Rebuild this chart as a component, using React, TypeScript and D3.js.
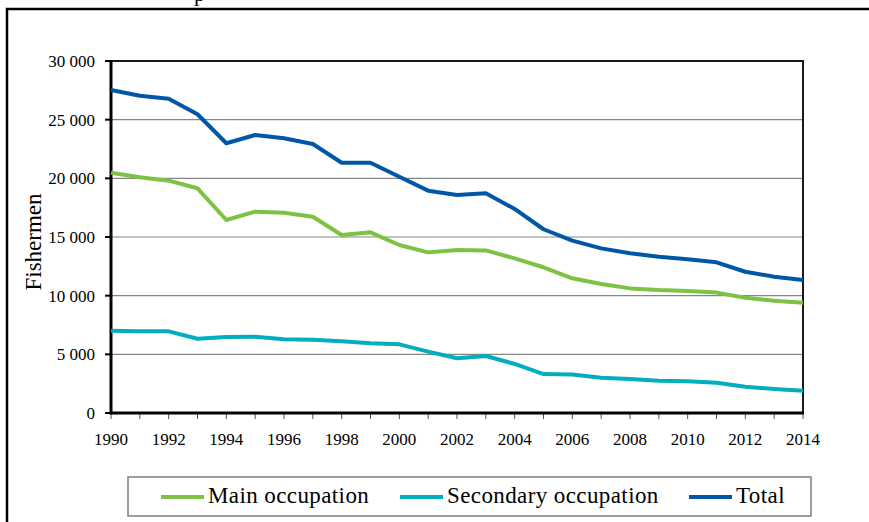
import React, { useEffect, useRef } from 'react';
import * as d3 from 'd3';

// Data
const years = [1990, 1991, 1992, 1993, 1994, 1995, 1996, 1997, 1998, 1999, 2000, 2001, 2002,
  2003, 2004, 2005, 2006, 2007, 2008, 2009, 2010, 2011, 2012, 2013, 2014];
const mainOccupation = [20480, 20090, 19800, 19150, 16450, 17160, 17070, 16730, 15170, 15400, 14320,
  13690, 13890, 13860, 13180, 12420, 11480, 10990, 10620, 10480, 10400, 10260, 9830, 9570, 9400];
const secondaryOccupation = [7020, 6960, 6960, 6330, 6480, 6500, 6280, 6250, 6110, 5940, 5850,
  5230, 4660, 4860, 4180, 3320, 3290, 3010, 2900, 2750, 2700, 2580, 2240, 2050, 1900];
const total = [27530, 27040, 26790, 25460, 22990, 23690, 23410, 22930, 21330, 21330, 20140,
  18950, 18580, 18720, 17390, 15660, 14690, 14030, 13610, 13320, 13100, 12840, 12040, 11620, 11340];
const yTicks = [0, 5000, 10000, 15000, 20000, 25000, 30000];
const xLabelYears = [1990, 1992, 1994, 1996, 1998, 2000, 2002, 2004, 2006, 2008, 2010, 2012, 2014];
const seriesNames = ['Main occupation', 'Secondary occupation', 'Total'];
const seriesColors = ['#7DC242', '#00AEBF', '#0057A8'];

const App = () => {
  const ref = useRef<SVGSVGElement>(null);

  useEffect(() => {
    const width = 869;
    const height = 522;
    const margin = { top: 61, right: 66, bottom: 109, left: 111 };
    const font = "'Liberation Serif', 'DejaVu Serif', serif";

    const svg = d3.select(ref.current);
    svg.selectAll('*').remove();

    // outer frame (cut at the right and bottom)
    svg.append('path')
      .attr('d', `M7,${height} L7,9 L${width},9`)
      .attr('fill', 'none')
      .attr('stroke', '#000')
      .attr('stroke-width', 2.5);

    // remnant of the caption above the frame
    svg.append('text')
      .attr('x', 194)
      .attr('y', 1)
      .attr('font-family', font)
      .attr('font-size', 22)
      .text('p');

    const x = d3.scaleLinear()
      .domain([1990, 2014])
      .range([margin.left, width - margin.right]);

    const y = d3.scaleLinear()
      .domain([0, 30000])
      .range([height - margin.bottom, margin.top]);

    const fmt = (v: number) => d3.format(',')(v).replace(/,/g, ' ');

    // gridlines
    svg.append('g')
      .selectAll('line')
      .data(yTicks.slice(1, -1))
      .enter()
      .append('line')
      .attr('x1', x(1990))
      .attr('x2', x(2014))
      .attr('y1', d => y(d))
      .attr('y2', d => y(d))
      .attr('stroke', '#868686')
      .attr('stroke-width', 1.2);

    // top and right border of plot area
    svg.append('path')
      .attr('d', `M${x(1990)},${y(30000)} L${x(2014)},${y(30000)} L${x(2014)},${y(0)}`)
      .attr('fill', 'none')
      .attr('stroke', '#1a1a1a')
      .attr('stroke-width', 2);

    // x axis ticks for every year
    svg.append('g')
      .selectAll('line')
      .data(years)
      .enter()
      .append('line')
      .attr('x1', d => x(d))
      .attr('x2', d => x(d))
      .attr('y1', y(0))
      .attr('y2', y(0) + 6)
      .attr('stroke', '#555')
      .attr('stroke-width', 1);

    // y axis ticks
    svg.append('g')
      .selectAll('line')
      .data(yTicks)
      .enter()
      .append('line')
      .attr('x1', x(1990) - 6)
      .attr('x2', x(1990))
      .attr('y1', d => y(d))
      .attr('y2', d => y(d))
      .attr('stroke', '#000')
      .attr('stroke-width', 2);

    // axis lines
    svg.append('line')
      .attr('x1', x(1990))
      .attr('x2', x(1990))
      .attr('y1', y(30000) - 1)
      .attr('y2', y(0) + 1.5)
      .attr('stroke', '#000')
      .attr('stroke-width', 3);
    svg.append('line')
      .attr('x1', x(1990))
      .attr('x2', x(2014) + 1)
      .attr('y1', y(0))
      .attr('y2', y(0))
      .attr('stroke', '#000')
      .attr('stroke-width', 3);

    // tick labels
    svg.append('g')
      .selectAll('text')
      .data(yTicks)
      .enter()
      .append('text')
      .attr('x', x(1990) - 16)
      .attr('y', d => y(d) + 6)
      .attr('text-anchor', 'end')
      .attr('font-family', font)
      .attr('font-size', 17)
      .text(d => fmt(d));

    svg.append('g')
      .selectAll('text')
      .data(xLabelYears)
      .enter()
      .append('text')
      .attr('x', d => x(d))
      .attr('y', y(0) + 32)
      .attr('text-anchor', 'middle')
      .attr('font-family', font)
      .attr('font-size', 17)
      .text(d => d);

    // y axis title
    svg.append('text')
      .attr('transform', `translate(41,${(y(0) + y(30000)) / 2 + 5}) rotate(-90)`)
      .attr('text-anchor', 'middle')
      .attr('font-family', font)
      .attr('font-size', 23)
      .text('Fishermen');

    // lines
    const allSeries = [mainOccupation, secondaryOccupation, total];
    const line = d3.line<number>()
      .x((d, i) => x(years[i]))
      .y(d => y(d));

    allSeries.forEach((values, i) => {
      svg.append('path')
        .datum(values)
        .attr('d', line)
        .attr('fill', 'none')
        .attr('stroke', seriesColors[i])
        .attr('stroke-width', 4)
        .attr('stroke-linejoin', 'round');
    });

    // legend
    const legend = svg.append('g');
    legend.append('rect')
      .attr('x', 128)
      .attr('y', 477)
      .attr('width', 683)
      .attr('height', 39)
      .attr('fill', '#fff')
      .attr('stroke', '#7f7f7f')
      .attr('stroke-width', 1.5);

    const legendX = [161, 400, 689];
    seriesNames.forEach((name, i) => {
      legend.append('line')
        .attr('x1', legendX[i])
        .attr('x2', legendX[i] + 43)
        .attr('y1', 497)
        .attr('y2', 497)
        .attr('stroke', seriesColors[i])
        .attr('stroke-width', 4);
      legend.append('text')
        .attr('x', legendX[i] + 47)
        .attr('y', 503)
        .attr('font-family', font)
        .attr('font-size', 23)
        .attr('letter-spacing', 0.4)
        .text(name);
    });
  }, []);

  return (
    <svg ref={ref} width={869} height={522}
      style={{ position: 'absolute', left: 0, top: 0, background: '#fff' }} />
  );
};

export default App;
